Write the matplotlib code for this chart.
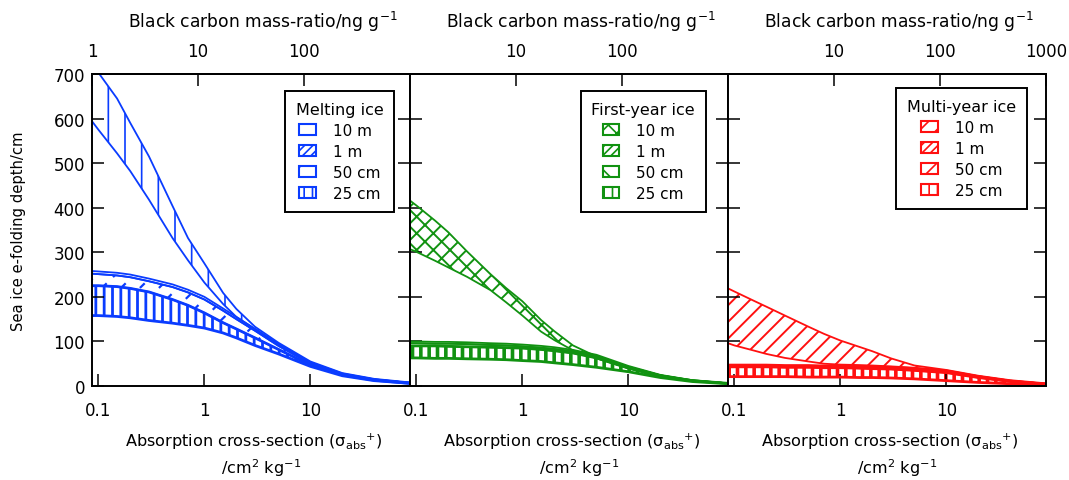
import matplotlib
matplotlib.use('Agg')
import numpy as np
import matplotlib.pyplot as plt
from matplotlib.patches import Patch
from matplotlib.ticker import NullLocator, FixedLocator, FixedFormatter
from matplotlib.transforms import blended_transform_factory

plt.rcParams['font.family'] = ['DejaVu Sans']
plt.rcParams['mathtext.fontset'] = 'dejavusans'
plt.rcParams['hatch.linewidth'] = 1.2

# ---------------- data ----------------
sigma_abs = [0.087, 0.1, 0.15, 0.2, 0.3, 0.5, 0.7, 1, 1.5, 2, 3, 5, 10, 20, 40, 87]

# Melting ice (blue)
melt_10m_hi = [725, 703, 645, 590, 515, 404, 332, 275, 209, 173, 133, 97, 55, 29, 16, 8]
melt_10m_lo = [594, 575, 522, 482, 418, 332, 282, 232, 184, 155, 128, 93, 53, 28, 15, 7]
melt_1m_hi = [258, 257, 254, 250, 241, 228, 216, 200, 174, 155, 128, 94, 52, 27, 15, 7]
melt_1m_lo = [252, 251, 248, 244, 235, 222, 210, 194, 169, 150, 124, 90, 50, 26, 14, 7]
melt_50cm_lo = [225, 225, 223, 219, 211, 194, 181, 164, 142, 128, 108, 82, 47, 25, 13, 6]
melt_25cm_lo = [158, 158, 156, 153, 147, 141, 136, 130, 119, 108, 91, 72, 44, 23, 12, 6]

# First-year ice (green)
fy_10m_hi = [416, 405, 371, 345, 302, 251, 220, 190, 148, 123, 91, 66, 43, 24, 13, 6]
fy_10m_lo = [307, 301, 281, 266, 245, 215, 188, 158, 122, 103, 80, 62, 40, 22, 12, 6]
fy_1m_hi = [100, 100, 99, 99, 98, 96, 95, 93, 90, 87, 81, 70, 45, 25, 13, 6]
fy_1m_lo = [96, 96, 95, 95, 94, 92, 91, 89, 86, 83, 78, 67, 43, 24, 12, 6]
fy_50cm_lo = [90, 90, 90, 89, 88, 87, 86, 85, 82, 79, 74, 63, 40, 22, 12, 6]
fy_25cm_lo = [63, 63, 62, 62, 61, 60, 59, 57, 55, 52, 48, 42, 32, 19, 10, 5]

# Multi-year ice (red)
my_10m_hi = [219, 212, 192, 178, 158, 133, 117, 102, 88, 78, 62, 46, 36, 23, 13, 6]
my_10m_lo = [96, 91, 80, 72, 63, 55, 50, 48, 47, 46, 44, 41, 35, 22, 12, 5]
my_1m_hi = [48, 48, 48, 48, 47, 47, 46, 46, 45, 44, 43, 40, 34, 22, 12, 5]
my_1m_lo = [46, 46, 46, 46, 45, 45, 44, 44, 43, 42, 41, 38, 32, 21, 11, 5]
my_50cm_lo = [43, 43, 43, 43, 42, 42, 41, 41, 40, 39, 38, 35, 30, 19, 10, 4]
my_25cm_lo = [21, 21, 21, 21, 21, 20, 20, 20, 19, 19, 18, 16, 12, 8, 5, 2]

thickness_labels = ['10 m', '1 m', '50 cm', '25 cm']
panel_titles = ['Melting ice', 'First-year ice', 'Multi-year ice']
bottom_ticks = [0.1, 1, 10]
bottom_ticklabels = ['0.1', '1', '10']
top_ticks = [[1, 10, 100], [10, 100], [10, 100, 1000]]
y_ticks = [0, 100, 200, 300, 400, 500, 600, 700]

# mass-ratio per unit cross-section (top axis conversion)
bc_factor = 1000.0 / 87.0

panels = [
    dict(color='#0a3cff',
         bands=[(melt_10m_hi, melt_10m_lo), (melt_1m_hi, melt_1m_lo),
                (melt_1m_lo, melt_50cm_lo), (melt_50cm_lo, melt_25cm_lo)],
         hatches=['|', None, 'dash', '||'],
         hatch_lw=[1.2, 1.2, 1.5, 2.0],
         leg_hatches=['', '////', '/', '||']),
    dict(color='#119211',
         bands=[(fy_10m_hi, fy_10m_lo), (fy_1m_hi, fy_1m_lo),
                (fy_1m_lo, fy_50cm_lo), (fy_50cm_lo, fy_25cm_lo)],
         hatches=['xx', None, None, '||'],
         hatch_lw=[1.4, 1.2, 1.2, 2.6],
         leg_hatches=['xx', '////', '\\', '||']),
    dict(color='#ff1010',
         bands=[(my_10m_hi, my_10m_lo), (my_1m_hi, my_1m_lo),
                (my_1m_lo, my_50cm_lo), (my_50cm_lo, my_25cm_lo)],
         hatches=['//', None, None, '||'],
         hatch_lw=[1.4, 1.2, 1.2, 2.6],
         leg_hatches=['//', '////', '/', '||']),
]

W, H = 1069, 481
fig = plt.figure(figsize=(W / 100, H / 100), dpi=100)

lefts = [92, 410, 728]
ax_w = 318
ax_bottom, ax_top = 387, 75
legend_anchor = [(0.95, 0.946), (0.93, 0.946), (0.94, 0.955)]

axes = []
for i, p in enumerate(panels):
    ax = fig.add_axes([lefts[i] / W, 1 - ax_bottom / H, ax_w / W, (ax_bottom - ax_top) / H])
    axes.append(ax)
    col = p['color']
    ax.set_xscale('log')
    ax.set_xlim(sigma_abs[0], sigma_abs[-1])
    ax.set_ylim(0, 700)
    for j, (hi, lo) in enumerate(p['bands']):
        hatch = p['hatches'][j]
        thick = (j == 3)
        if hatch == 'dash':
            # dashed diagonal strokes clipped to the band
            pc = ax.fill_between(sigma_abs, lo, hi, facecolor='none',
                                 edgecolor='none', linewidth=0)
            clip = pc.get_paths()[0]
            for off in np.arange(-1.0, 1.0, 19.0 / ax_w):
                ln, = ax.plot([off, off + 1], [0, 1], transform=ax.transAxes,
                              color=col, lw=1.6, dashes=(3.0, 4.0))
                ln.set_clip_path(clip, ax.transData)
        elif hatch is not None:
            pc = ax.fill_between(sigma_abs, lo, hi, facecolor='none', edgecolor=col,
                                 hatch=hatch, linewidth=0)
            if hasattr(pc, 'set_hatch_linewidth'):
                pc.set_hatch_linewidth(p['hatch_lw'][j])
        lw = 2.0 if thick else 1.3
        ax.plot(sigma_abs, hi, color=col, lw=lw, solid_capstyle='butt')
        ax.plot(sigma_abs, lo, color=col, lw=lw, solid_capstyle='butt')

    ax.xaxis.set_major_locator(FixedLocator(bottom_ticks))
    ax.xaxis.set_major_formatter(FixedFormatter(bottom_ticklabels))
    ax.xaxis.set_minor_locator(NullLocator())
    ax.set_yticks(y_ticks)
    ax.tick_params(axis='x', which='major', direction='in', length=8.5, width=1.1,
                   labelsize=12, pad=11, bottom=True, top=False)
    ax.tick_params(axis='y', which='major', direction='in', length=8.5, width=1.1,
                   labelsize=12, pad=5, left=True, right=True,
                   labelleft=(i == 0))
    for s in ax.spines.values():
        s.set_linewidth(1.4)

    sec = ax.secondary_xaxis('top', functions=(lambda x: x * bc_factor,
                                               lambda x: x / bc_factor))
    sec.set_xscale('log')
    sec.xaxis.set_major_locator(FixedLocator(top_ticks[i]))
    sec.xaxis.set_major_formatter(FixedFormatter([str(t) for t in top_ticks[i]]))
    sec.xaxis.set_minor_locator(NullLocator())
    sec.tick_params(axis='x', which='major', direction='in', length=8.5, width=1.1,
                    labelsize=12, pad=10)
    sec.spines['top'].set_linewidth(1.4)

    trans = blended_transform_factory(ax.transAxes, fig.transFigure)
    ax.text(0.5 + 12 / ax_w, 1 - 28 / H, 'Black carbon mass-ratio/ng g$^{-1}$',
            transform=trans, ha='center', va='baseline', fontsize=12.3)
    ax.text(0.5 + 3 / ax_w, 1 - 447 / H,
            r'Absorption cross-section ($\mathregular{{\sigma_{abs}}^{+}}$)',
            transform=trans, ha='center', va='baseline', fontsize=11.6)
    ax.text(0.5 + 10 / ax_w, 1 - 474 / H, r'/cm$^{2}$ kg$^{-1}$',
            transform=trans, ha='center', va='baseline', fontsize=11.6)

    handles = [Patch(facecolor='white', edgecolor=col, hatch=h, linewidth=1.5)
               for h in p['leg_hatches']]
    leg = ax.legend(handles, thickness_labels, title=panel_titles[i],
                    loc='upper right', bbox_to_anchor=legend_anchor[i],
                    fontsize=11, title_fontsize=11.5, fancybox=False,
                    edgecolor='black', framealpha=1, borderpad=0.7,
                    handlelength=1.1, handleheight=0.7, handletextpad=1.1,
                    labelspacing=0.4, borderaxespad=0)
    leg.get_frame().set_linewidth(1.4)

axes[0].set_ylabel('Sea ice e-folding depth/cm', fontsize=10.6, labelpad=20)

fig.savefig('out.png', dpi=100)
